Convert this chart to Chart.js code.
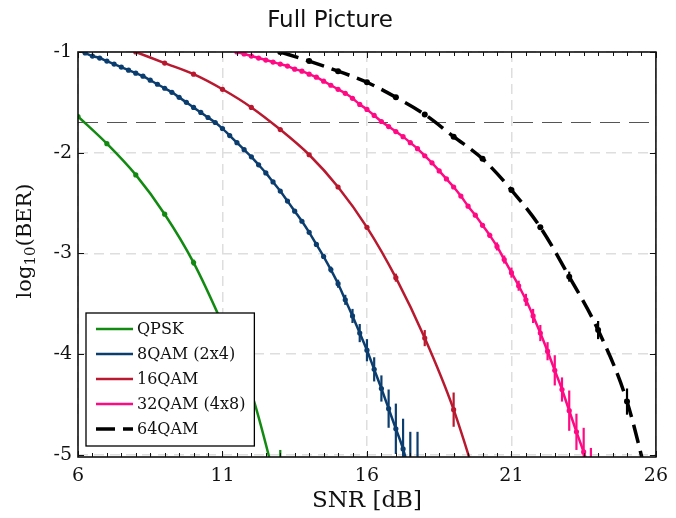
<!DOCTYPE html>
<html>
<head>
<meta charset="utf-8">
<title>BER vs SNR</title>
<script src="https://cdn.jsdelivr.net/npm/chart.js@4.4.1/dist/chart.umd.min.js"></script>
<style>
  html, body { margin: 0; padding: 0; background: #fff; }
  canvas { display: block; }
</style>
</head>
<body>
<canvas id="berChart" width="676" height="518"></canvas>
<script>
'use strict';

/* axis ticks */
var xTicks = [6, 11, 16, 21, 26];
var yTicks = [-5, -4, -3, -2, -1];
var fecLimit = -1.7;   // log10(2e-2)

/* QPSK */
var snrQpsk = [6, 7, 8, 9, 10, 11, 12, 13];
var berQpsk = [-1.64, -1.91, -2.22, -2.61, -3.09, -3.70, -4.38, -5.45];
var errQpsk = [0.004, 0.005, 0.008, 0.012, 0.03, 0.05, 0.07, 0.5];

/* 8QAM (2x4) */
var snr8 = [6, 6.25, 6.5, 6.75, 7, 7.25, 7.5, 7.75, 8, 8.25, 8.5, 8.75,
            9, 9.25, 9.5, 9.75, 10, 10.25, 10.5, 10.75, 11, 11.25, 11.5, 11.75,
            12, 12.25, 12.5, 12.75, 13, 13.25, 13.5, 13.75, 14, 14.25, 14.5, 14.75,
            15, 15.25, 15.5, 15.75, 16, 16.25, 16.5, 16.75, 17, 17.25, 17.5, 17.75];
var ber8 = [-0.98, -1.01, -1.04, -1.06, -1.09, -1.12, -1.15, -1.18, -1.21, -1.24, -1.28, -1.32,
            -1.36, -1.40, -1.45, -1.50, -1.55, -1.60, -1.65, -1.70, -1.76, -1.83, -1.90, -1.97,
            -2.04, -2.12, -2.20, -2.29, -2.38, -2.48, -2.58, -2.68, -2.79, -2.91, -3.03, -3.16,
            -3.30, -3.46, -3.62, -3.79, -3.96, -4.15, -4.34, -4.54, -4.74, -4.94, -5.20, -5.40];
var err8 = [0.005, 0.005, 0.005, 0.005, 0.005, 0.005, 0.005, 0.005, 0.005, 0.005, 0.005, 0.005,
            0.005, 0.005, 0.005, 0.005, 0.005, 0.005, 0.005, 0.005, 0.01, 0.01, 0.01, 0.01,
            0.01, 0.01, 0.01, 0.01, 0.01, 0.01, 0.01, 0.01, 0.015, 0.02, 0.025, 0.03,
            0.04, 0.05, 0.07, 0.09, 0.11, 0.12, 0.13, 0.19, 0.25, 0.3, 0.43, 0.63];

/* 16QAM */
var snr16 = [8, 9, 10, 11, 12, 13, 14, 15, 16, 17, 18, 19, 20];
var ber16 = [-1.00, -1.11, -1.22, -1.37, -1.55, -1.77, -2.02, -2.34, -2.74, -3.24, -3.84, -4.55, -5.45];
var err16 = [0.005, 0.005, 0.005, 0.005, 0.006, 0.008, 0.01, 0.012, 0.02, 0.04, 0.08, 0.17, 0.4];

/* 32QAM (4x8) */
var snr32 = [11.5, 11.75, 12, 12.25, 12.5, 12.75, 13, 13.25, 13.5, 13.75, 14, 14.25, 14.5, 14.75,
             15, 15.25, 15.5, 15.75, 16, 16.25, 16.5, 16.75, 17, 17.25, 17.5, 17.75,
             18, 18.25, 18.5, 18.75, 19, 19.25, 19.5, 19.75, 20, 20.25, 20.5, 20.75,
             21, 21.25, 21.5, 21.75, 22, 22.25, 22.5, 22.75, 23, 23.25, 23.5, 23.75];
var ber32 = [-1.00, -1.02, -1.04, -1.06, -1.08, -1.10, -1.12, -1.14, -1.17, -1.19, -1.22, -1.25, -1.29, -1.33,
             -1.37, -1.41, -1.46, -1.52, -1.57, -1.63, -1.69, -1.74, -1.79, -1.84, -1.90, -1.96,
             -2.03, -2.10, -2.18, -2.26, -2.34, -2.43, -2.53, -2.62, -2.72, -2.82, -2.93, -3.06,
             -3.19, -3.32, -3.46, -3.62, -3.79, -3.97, -4.16, -4.35, -4.56, -4.77, -4.97, -5.18];
var err32 = [0.005, 0.005, 0.005, 0.005, 0.005, 0.005, 0.005, 0.005, 0.005, 0.005, 0.005, 0.005, 0.005, 0.005,
             0.005, 0.005, 0.005, 0.005, 0.005, 0.005, 0.005, 0.005, 0.005, 0.005, 0.005, 0.005,
             0.005, 0.005, 0.005, 0.005, 0.01, 0.01, 0.015, 0.015, 0.02, 0.025, 0.04, 0.04,
             0.05, 0.05, 0.06, 0.07, 0.08, 0.09, 0.15, 0.12, 0.2, 0.18, 0.24, 0.25];

/* 64QAM */
var snr64 = [13, 14, 15, 16, 17, 18, 19, 20, 21, 22, 23, 24, 25, 26];
var ber64 = [-1.00, -1.09, -1.19, -1.30, -1.45, -1.62, -1.84, -2.06, -2.37, -2.74, -3.23, -3.76, -4.47, -5.60];
var err64 = [0.004, 0.004, 0.005, 0.005, 0.006, 0.007, 0.008, 0.01, 0.012, 0.02, 0.05, 0.09, 0.13, 0.5];

function toPoints(xs, ys) {
  return xs.map(function(x, i) { return {x: x, y: ys[i]}; });
}

function series(label, xs, ys, errs, color, width, dash, radius) {
  return {
    label: label,
    data: toPoints(xs, ys),
    errors: errs,
    borderColor: color,
    backgroundColor: color,
    borderWidth: width,
    borderDash: dash,
    pointRadius: radius,
    pointBorderWidth: 0,
    pointBackgroundColor: color,
    cubicInterpolationMode: 'monotone',
    clip: 0
  };
}

/* vertical error bars, same colour as their curve */
var errorBars = {
  id: 'errorBars',
  afterDatasetsDraw: function(chart) {
    var ctx = chart.ctx, area = chart.chartArea;
    var xs = chart.scales.x, ys = chart.scales.y;
    ctx.save();
    ctx.beginPath();
    ctx.rect(area.left, area.top, area.right - area.left, area.bottom - area.top);
    ctx.clip();
    chart.data.datasets.forEach(function(ds) {
      if (!ds.errors) return;
      ctx.strokeStyle = ds.borderColor;
      ctx.lineWidth = 2.2;
      ds.data.forEach(function(p, i) {
        var e = ds.errors[i];
        var px = xs.getPixelForValue(p.x);
        ctx.beginPath();
        ctx.moveTo(px, ys.getPixelForValue(p.y + e));
        ctx.lineTo(px, ys.getPixelForValue(p.y - e));
        ctx.stroke();
      });
    });
    ctx.restore();
  }
};

/* box around the plot with inward ticks */
var axisFrame = {
  id: 'axisFrame',
  afterDatasetsDraw: function(chart) {
    var ctx = chart.ctx, a = chart.chartArea;
    var xs = chart.scales.x, ys = chart.scales.y;
    ctx.save();
    ctx.strokeStyle = '#111';
    ctx.lineWidth = 1;
    ctx.beginPath();
    for (var v = xs.min; v <= xs.max + 1e-9; v += 0.5) {
      var px = Math.round(xs.getPixelForValue(v)) + 0.5;
      var len = xTicks.indexOf(v) >= 0 ? 6 : 4;
      ctx.moveTo(px, a.bottom); ctx.lineTo(px, a.bottom - len);
      ctx.moveTo(px, a.top); ctx.lineTo(px, a.top + len);
    }
    yTicks.forEach(function(t) {
      var py = Math.round(ys.getPixelForValue(t)) + 0.5;
      ctx.moveTo(a.left, py); ctx.lineTo(a.left + 6, py);
      ctx.moveTo(a.right, py); ctx.lineTo(a.right - 6, py);
    });
    ctx.stroke();
    ctx.lineWidth = 1.6;
    ctx.strokeRect(a.left, a.top, a.right - a.left, a.bottom - a.top);
    ctx.restore();
  }
};

/* y axis label with a real subscript */
var yAxisLabel = {
  id: 'yAxisLabel',
  afterDraw: function(chart) {
    var ctx = chart.ctx;
    var big = '21px "DejaVu Serif"', small = '15px "DejaVu Serif"';
    ctx.save();
    ctx.font = big;
    var w1 = ctx.measureText('log').width, w3 = ctx.measureText('(BER)').width;
    ctx.font = small;
    var w2 = ctx.measureText('10').width;
    var total = w1 + w2 + w3;
    ctx.translate(24, 241);
    ctx.rotate(-Math.PI / 2);
    ctx.fillStyle = '#111';
    ctx.textBaseline = 'alphabetic';
    ctx.textAlign = 'left';
    var x = -total / 2;
    ctx.font = big;
    ctx.fillText('log', x, 7);
    ctx.font = small;
    ctx.fillText('10', x + w1, 11);
    ctx.font = big;
    ctx.fillText('(BER)', x + w1 + w2, 7);
    ctx.restore();
  }
};

/* legend drawn inside the plot, lower left */
var legendBox = {
  id: 'legendBox',
  afterDraw: function(chart) {
    var ctx = chart.ctx, a = chart.chartArea;
    var items = chart.data.datasets.filter(function(d) { return d.label; });
    var rowH = 25, sample = 37, gap = 4, padX = 10, padTop = 16, padBottom = 17;
    ctx.save();
    ctx.font = '16px "DejaVu Serif"';
    var textW = Math.max.apply(null, items.map(function(d) { return ctx.measureText(d.label).width; }));
    var w = padX + sample + gap + textW + 9;
    var h = padTop + padBottom + rowH * (items.length - 1);
    var left = a.left + 8, top = a.bottom - 11 - h;
    ctx.fillStyle = '#fff';
    ctx.fillRect(left, top, w, h);
    ctx.strokeStyle = '#000';
    ctx.lineWidth = 1.3;
    ctx.strokeRect(left, top, w, h);
    items.forEach(function(d, i) {
      var y = top + padTop + i * rowH;
      ctx.strokeStyle = d.borderColor;
      ctx.lineWidth = d.borderWidth;
      ctx.setLineDash(d.borderDash || []);
      ctx.beginPath();
      ctx.moveTo(left + padX, y);
      ctx.lineTo(left + padX + sample, y);
      ctx.stroke();
      ctx.setLineDash([]);
      ctx.fillStyle = '#111';
      ctx.textBaseline = 'middle';
      ctx.textAlign = 'left';
      ctx.fillText(d.label, left + padX + sample + gap, y + 1);
    });
    ctx.restore();
  }
};

var datasets = [
  series('QPSK', snrQpsk, berQpsk, errQpsk, '#128a12', 2.5, [], 2.6),
  series('8QAM (2x4)', snr8, ber8, err8, '#0b3d6f', 2.5, [], 2.6),
  series('16QAM', snr16, ber16, err16, '#b8192f', 2.5, [], 2.6),
  series('32QAM (4x8)', snr32, ber32, err32, '#ff0a84', 2.5, [], 2.6),
  series('64QAM', snr64, ber64, err64, '#000000', 3.5, [19, 8], 3),
  {
    data: toPoints([xTicks[0], xTicks[xTicks.length - 1]], [fecLimit, fecLimit]),
    borderColor: '#555',
    borderWidth: 1.2,
    borderDash: [20, 9],
    pointRadius: 0
  }
];

var tickFont = {family: 'DejaVu Serif', size: 19};

new Chart(document.getElementById('berChart'), {
  type: 'line',
  data: {datasets: datasets},
  options: {
    responsive: false,
    animation: false,
    events: [],
    layout: {padding: {left: 0, right: 16, top: 0, bottom: 0}},
    plugins: {
      legend: {display: false},
      tooltip: {enabled: false},
      title: {
        display: true,
        text: 'Full Picture',
        color: '#111',
        font: {family: 'DejaVu Sans', size: 23, weight: 'normal'},
        padding: {top: 7, bottom: 17.4}
      }
    },
    scales: {
      x: {
        type: 'linear',
        min: 6,
        max: 26,
        afterBuildTicks: function(s) { s.ticks = xTicks.map(function(v) { return {value: v}; }); },
        afterFit: function(s) { s.height = 61; },
        grid: {color: '#dedede', lineWidth: 1.5, drawTicks: false},
        border: {display: false, dash: [10, 6]},
        ticks: {font: tickFont, color: '#111', padding: 8, maxRotation: 0},
        title: {
          display: true,
          text: 'SNR [dB]',
          color: '#111',
          font: {family: 'DejaVu Serif', size: 23},
          padding: {top: 0, bottom: 3}
        }
      },
      y: {
        min: -5.02,
        max: -1,
        afterBuildTicks: function(s) { s.ticks = yTicks.map(function(v) { return {value: v}; }); },
        afterFit: function(s) { s.width = 78; },
        grid: {color: '#dedede', lineWidth: 1.5, drawTicks: false},
        border: {display: false, dash: [10, 6]},
        ticks: {font: tickFont, color: '#111', padding: 6}
      }
    }
  },
  plugins: [errorBars, axisFrame, yAxisLabel, legendBox]
});
</script>
</body>
</html>
